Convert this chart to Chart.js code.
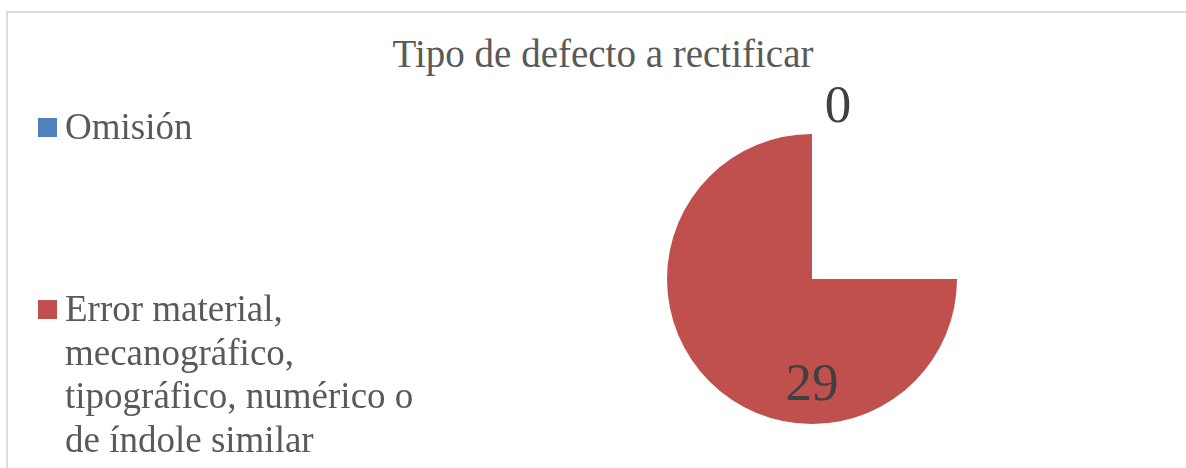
<!DOCTYPE html>
<html>
<head>
<meta charset="utf-8">
<script src="https://cdn.jsdelivr.net/npm/chart.js@4/dist/chart.umd.min.js"></script>
<style>
  html, body { margin: 0; padding: 0; background: #fff; overflow: hidden; }
  body { width: 1186px; height: 468px; position: relative; font-family: "Liberation Serif", "Times New Roman", serif; }
  #frame { position: absolute; left: 6px; top: 11px; width: 1300px; height: 600px; border: 2px solid #dcdcdc; box-sizing: border-box; }
  #title { position: absolute; left: 303px; width: 600px; top: 34px; text-align: center; font-size: 39px; line-height: 39px; color: #595959; white-space: nowrap; }
  #chart { position: absolute; left: 0; top: 0; }
  .item { position: absolute; left: 38px; }
  .item .box { position: absolute; left: 0; width: 19px; height: 19px; }
  .item .txt { position: absolute; left: 27px; width: 365px; font-size: 37px; line-height: 43.5px; color: #595959; }
</style>
</head>
<body>
<div id="frame"></div>
<div id="title">Tipo de defecto a rectificar</div>
<canvas id="chart" width="1186" height="468"></canvas>
<div id="legend"></div>
<script>
const categories = ['Omisión', 'Error material, mecanográfico, tipográfico, numérico o de índole similar'];
const values = [0, 29];
const colors = ['#4F81BD', '#C0504D'];

// legend drawn as html so the long label can wrap like the original
const legendTops = [105, 287];
const legend = document.getElementById('legend');
categories.forEach((name, i) => {
  const item = document.createElement('div');
  item.className = 'item';
  item.style.top = legendTops[i] + 'px';
  item.innerHTML = '<div class="box" style="top:13px;background:' + colors[i] + '"></div>' +
    '<div class="txt">' + name + '</div>';
  legend.appendChild(item);
});

// value labels placed the way the source spreadsheet did (full circle from 12 o'clock)
const valueLabels = {
  id: 'valueLabels',
  afterDatasetsDraw(chart) {
    const ctx = chart.ctx;
    const arcs = chart.getDatasetMeta(0).data;
    const data = chart.data.datasets[0].data;
    const total = data.reduce((a, b) => a + b, 0);
    let start = -Math.PI / 2;
    ctx.save();
    ctx.font = '53px "Liberation Serif", serif';
    ctx.fillStyle = '#404040';
    ctx.textBaseline = 'alphabetic';
    data.forEach((v, i) => {
      const arc = arcs[i];
      const sweep = v / total * Math.PI * 2;
      const mid = start + sweep / 2;
      start += sweep;
      let x, y;
      if (v === 0) {
        const r = arc.outerRadius + 30;
        x = arc.x + Math.cos(mid) * r + 26;
        y = arc.y + Math.sin(mid) * r;
      } else {
        const r = arc.outerRadius * 0.71;
        x = arc.x + Math.cos(mid) * r;
        y = arc.y + Math.sin(mid) * r;
      }
      ctx.textAlign = 'center';
      ctx.fillText(String(v), x, y + 18);
    });
    ctx.restore();
  }
};

new Chart(document.getElementById('chart').getContext('2d'), {
  type: 'pie',
  data: {
    labels: categories,
    datasets: [{
      data: values,
      backgroundColor: colors,
      borderWidth: 0,
      hoverOffset: 0
    }]
  },
  options: {
    responsive: false,
    animation: false,
    events: [],
    rotation: 90,
    circumference: 270,
    layout: { padding: { left: 667, right: 229, top: 134, bottom: 44 } },
    plugins: {
      legend: { display: false },
      title: { display: false },
      tooltip: { enabled: false }
    }
  },
  plugins: [valueLabels]
});
</script>
</body>
</html>
